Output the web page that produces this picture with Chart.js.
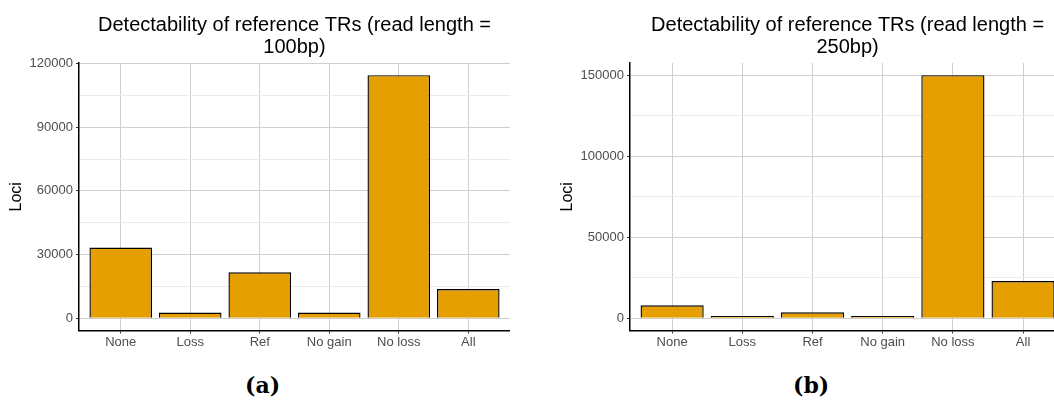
<!DOCTYPE html>
<html>
<head>
<meta charset="utf-8">
<script src="https://cdn.jsdelivr.net/npm/chart.js@4.4.1/dist/chart.umd.min.js"></script>
<style>
  html, body { margin: 0; padding: 0; background: #fff; overflow: hidden; width: 1054px; height: 405px; }
  .panel { position: absolute; top: 0; height: 360px; }
  .cap { position: absolute; font: bold 22px "DejaVu Serif", serif; color: #000; }
</style>
</head>
<body>
<div class="panel" style="left:0;width:510px"><canvas id="c1"></canvas></div>
<div class="panel" style="left:550.6px;width:514.2px"><canvas id="c2"></canvas></div>
<div class="cap" style="left:245px;top:372px">(a)</div>
<div class="cap" style="left:793px;top:372px">(b)</div>
<script>
// categories + values
const categories = ['None', 'Loss', 'Ref', 'No gain', 'No loss', 'All'];
const loci100 = [33300, 2700, 21700, 2700, 114500, 13800];
const loci250 = [8000, 1400, 3700, 1400, 150000, 23000];

const ticks100 = [0, 30000, 60000, 90000, 120000];
const minor100 = [15000, 45000, 75000, 105000];
const ticks250 = [0, 50000, 100000, 150000];
const minor250 = [25000, 75000, 125000];

const title100 = ['Detectability of reference TRs (read length =', '100bp)'];
const title250 = ['Detectability of reference TRs (read length =', '250bp)'];

const FONT = '"Liberation Sans", Arial, sans-serif';

function makeChart(id, values, major, minor, title) {
  const top = Math.max(...values);
  const lo = -0.05 * top, hi = top * 1.05;   // ggplot-style 5% expansion
  return new Chart(document.getElementById(id), {
    type: 'bar',
    data: { datasets: [{
      data: values.map((v, i) => ({ x: i, y: v })),
      backgroundColor: '#E69F00', borderColor: '#000', borderWidth: 1.4,
      barPercentage: 0.9, categoryPercentage: 1
    }] },
    options: {
      responsive: true, maintainAspectRatio: false, animation: false,
      layout: { padding: { left: 7.4, right: 0, top: 0, bottom: 0 } },
      plugins: {
        legend: { display: false }, tooltip: { enabled: false },
        title: { display: true, text: title, fullSize: false, color: '#000',
          font: { family: FONT, size: 20, weight: 'normal', lineHeight: 1.1 },
          padding: { top: 14, bottom: 5 } }
      },
      scales: {
        x: {
          type: 'linear', min: -0.6, max: 5.6, offset: false,
          afterBuildTicks: s => { s.ticks = categories.map((c, i) => ({ value: i })); },
          ticks: { callback: v => categories[v], color: '#4d4d4d', font: { family: FONT, size: 13 },
            padding: 1, autoSkip: false, maxRotation: 0 },
          grid: { color: '#cfcfcf', tickColor: '#333', tickLength: 3, offset: false },
          border: { color: '#000', width: 1.5 },
          afterFit: s => { s.height = 29.5; }
        },
        y: {
          min: lo, max: hi,
          afterBuildTicks: s => { s.ticks = [...major, ...minor].sort((a, b) => a - b).map(v => ({ value: v })); },
          ticks: { callback: v => major.includes(v) ? String(v) : '', color: '#4d4d4d',
            font: { family: FONT, size: 13 }, padding: 3 },
          grid: {
            color: c => c.tick && major.includes(c.tick.value) ? '#cfcfcf' : '#ebebeb',
            tickColor: c => c.tick && major.includes(c.tick.value) ? '#333' : 'rgba(0,0,0,0)',
            tickLength: 3
          },
          border: { color: '#000', width: 1.5 },
          title: { display: true, text: 'Loci', color: '#000', font: { family: FONT, size: 16 }, padding: { top: 0, bottom: 0 } },
          afterFit: s => { s.width = 71.6; }
        }
      }
    }
  });
}

makeChart('c1', loci100, ticks100, minor100, title100);
makeChart('c2', loci250, ticks250, minor250, title250);
</script>
</body>
</html>
